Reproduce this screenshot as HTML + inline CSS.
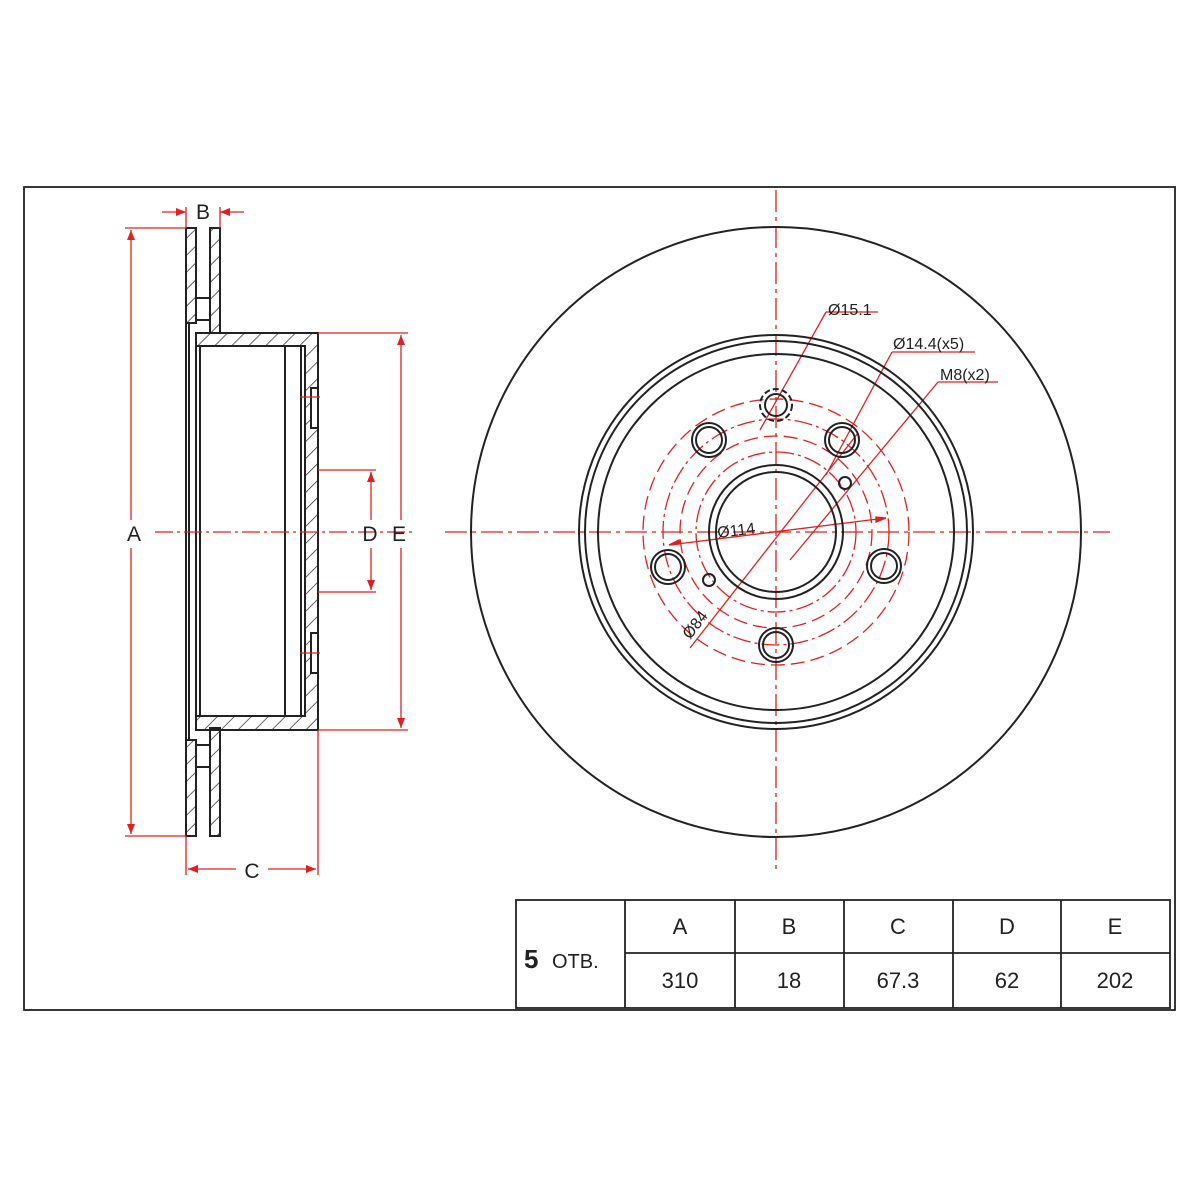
<!DOCTYPE html>
<html><head><meta charset="utf-8"><style>
html,body{margin:0;padding:0;background:#fff;width:1200px;height:1200px;overflow:hidden}
svg{display:block}
text{font-family:"Liberation Sans",sans-serif}
</style></head><body>
<svg width="1200" height="1200" viewBox="0 0 1200 1200" xmlns="http://www.w3.org/2000/svg">
<defs>
<pattern id="h" patternUnits="userSpaceOnUse" width="12" height="12" patternTransform="rotate(45)">
<line x1="0" y1="0" x2="0" y2="12" stroke="#222" stroke-width="1.4"/>
</pattern>
<marker id="ar" markerWidth="10" markerHeight="8" refX="10" refY="4" orient="auto" markerUnits="userSpaceOnUse">
<path d="M0,0 L10,4 L0,8 z" fill="#e02020"/></marker>
</defs>
<rect x="24" y="187" width="1151" height="823" fill="none" stroke="#222" stroke-width="1.8"/>

<!-- SIDE VIEW -->
<g stroke="#222" stroke-width="2" fill="none">
<rect x="186" y="228" width="10" height="95" fill="url(#h)"/>
<rect x="210" y="228" width="10" height="105" fill="url(#h)"/>
<rect x="196" y="298" width="14" height="22"/>
<rect x="186" y="740" width="10" height="96" fill="url(#h)"/>
<rect x="210" y="728" width="10" height="108" fill="url(#h)"/>
<rect x="196" y="745" width="14" height="22"/>
<path d="M196,333 L318,333 L318,730 L196,730 L196,716 L305,716 L305,346 L196,346 Z" fill="url(#h)"/>
<line x1="186" y1="323" x2="186" y2="740"/>
<line x1="189" y1="323" x2="189" y2="740"/>
<line x1="196" y1="346" x2="196" y2="716"/>
<line x1="200" y1="346" x2="200" y2="716"/>
<line x1="285" y1="346" x2="285" y2="716"/>
<line x1="301" y1="346" x2="301" y2="716"/>
<rect x="311" y="388" width="7" height="40" fill="#fff"/>
<rect x="311" y="633" width="7" height="40" fill="#fff"/>
</g>
<g stroke="#e02020" stroke-width="1.3" fill="none">
<line x1="162" y1="212" x2="186" y2="212" marker-end="url(#ar)"/>
<line x1="244" y1="212" x2="220" y2="212" marker-end="url(#ar)"/>
<line x1="186" y1="207" x2="186" y2="228"/><line x1="220" y1="207" x2="220" y2="228"/>
<line x1="125" y1="228" x2="186" y2="228"/><line x1="125" y1="836" x2="186" y2="836"/>
<line x1="131" y1="520" x2="131" y2="230" marker-end="url(#ar)"/>
<line x1="131" y1="548" x2="131" y2="834" marker-end="url(#ar)"/>
<line x1="318" y1="333" x2="408" y2="333"/><line x1="318" y1="730" x2="408" y2="730"/>
<line x1="401" y1="520" x2="401" y2="335" marker-end="url(#ar)"/>
<line x1="401" y1="548" x2="401" y2="728" marker-end="url(#ar)"/>
<line x1="318" y1="470" x2="376" y2="470"/><line x1="318" y1="592" x2="376" y2="592"/>
<line x1="371" y1="520" x2="371" y2="472" marker-end="url(#ar)"/>
<line x1="371" y1="548" x2="371" y2="590" marker-end="url(#ar)"/>
<line x1="186" y1="836" x2="186" y2="875"/><line x1="318" y1="730" x2="318" y2="875"/>
<line x1="236" y1="869" x2="188" y2="869" marker-end="url(#ar)"/>
<line x1="268" y1="869" x2="316" y2="869" marker-end="url(#ar)"/>
<line x1="155" y1="532" x2="415" y2="532" stroke-dasharray="18,4,3,4"/>
<line x1="300" y1="397" x2="320" y2="397"/><line x1="300" y1="653" x2="320" y2="653"/>
</g>
<g font-size="21" fill="#222" text-anchor="middle">
<text x="203" y="219">B</text>
<text x="134" y="541">A</text>
<text x="370" y="541">D</text>
<text x="399" y="541">E</text>
<text x="252" y="878">C</text>
</g>

<!-- FRONT VIEW -->
<g stroke="#e02020" stroke-width="1.3" fill="none">
<line x1="776" y1="190" x2="776" y2="870" stroke-dasharray="22,5,4,5"/>
<line x1="445" y1="532" x2="1110" y2="532" stroke-dasharray="22,5,4,5"/>
<circle cx="776" cy="532" r="133" stroke-dasharray="14,6"/>
<circle cx="776" cy="532" r="113" stroke-dasharray="18,4,3,4"/>
<circle cx="776" cy="532" r="96" stroke-dasharray="14,6"/>
<circle cx="776" cy="532" r="80" stroke-dasharray="18,4,3,4"/>
<line x1="669" y1="545" x2="886" y2="518"/>
<path d="M680,544 L669,545 L679,540z" fill="#e02020"/>
<path d="M876,517 L886,518 L876,522z" fill="#e02020"/>
<line x1="690" y1="648" x2="858" y2="433"/>
<line x1="760" y1="430" x2="826" y2="312"/><line x1="826" y1="312" x2="878" y2="312"/>
<line x1="826" y1="475" x2="892" y2="352"/><line x1="892" y1="352" x2="975" y2="352"/>
<line x1="790" y1="560" x2="938" y2="382"/><line x1="938" y1="382" x2="998" y2="382"/>
</g>
<g stroke="#222" stroke-width="2" fill="none">
<circle cx="776" cy="532" r="305"/>
<circle cx="776" cy="532" r="197"/>
<circle cx="776" cy="532" r="191"/>
<circle cx="776" cy="532" r="178"/>
<circle cx="776" cy="532" r="67"/>
<circle cx="776" cy="532" r="60"/>
<circle cx="776" cy="405" r="16" stroke-dasharray="6,3"/>
<circle cx="776" cy="405" r="11"/>
<circle cx="709" cy="440" r="17"/><circle cx="709" cy="440" r="13"/>
<circle cx="842" cy="440" r="17"/><circle cx="842" cy="440" r="13"/>
<circle cx="668" cy="567" r="17"/><circle cx="668" cy="567" r="13"/>
<circle cx="884" cy="566" r="17"/><circle cx="884" cy="566" r="13"/>
<circle cx="776" cy="645" r="17"/><circle cx="776" cy="645" r="13"/>
<circle cx="845" cy="483" r="6"/>
<circle cx="709" cy="580" r="6"/>
</g>
<g font-size="16" fill="#222">
<text x="828" y="315">Ø15.1</text>
<text x="893" y="349">Ø14.4(x5)</text>
<text x="940" y="380">M8(x2)</text>
<text x="718" y="538" transform="rotate(-7 718 538)">Ø114</text>
<text x="690" y="640" transform="rotate(-52 690 640)">Ø84</text>
</g>

<!-- TABLE -->
<g stroke="#222" stroke-width="1.8" fill="none">
<rect x="516" y="900" width="654" height="108"/>
<line x1="625" y1="953" x2="1170" y2="953"/>
<line x1="625" y1="900" x2="625" y2="1008"/>
<line x1="735" y1="900" x2="735" y2="1008"/>
<line x1="844" y1="900" x2="844" y2="1008"/>
<line x1="953" y1="900" x2="953" y2="1008"/>
<line x1="1061" y1="900" x2="1061" y2="1008"/>
</g>
<g font-size="22" fill="#222" text-anchor="middle">
<text x="680" y="934">A</text><text x="789" y="934">B</text><text x="898" y="934">C</text><text x="1007" y="934">D</text><text x="1115" y="934">E</text>
<text x="680" y="988">310</text><text x="789" y="988">18</text><text x="898" y="988">67.3</text><text x="1007" y="988">62</text><text x="1115" y="988">202</text>
</g>
<text x="524" y="968" font-size="26" font-weight="bold" fill="#222">5</text>
<text x="552" y="968" font-size="20" fill="#222">ОТВ.</text>
</svg>
</body></html>
